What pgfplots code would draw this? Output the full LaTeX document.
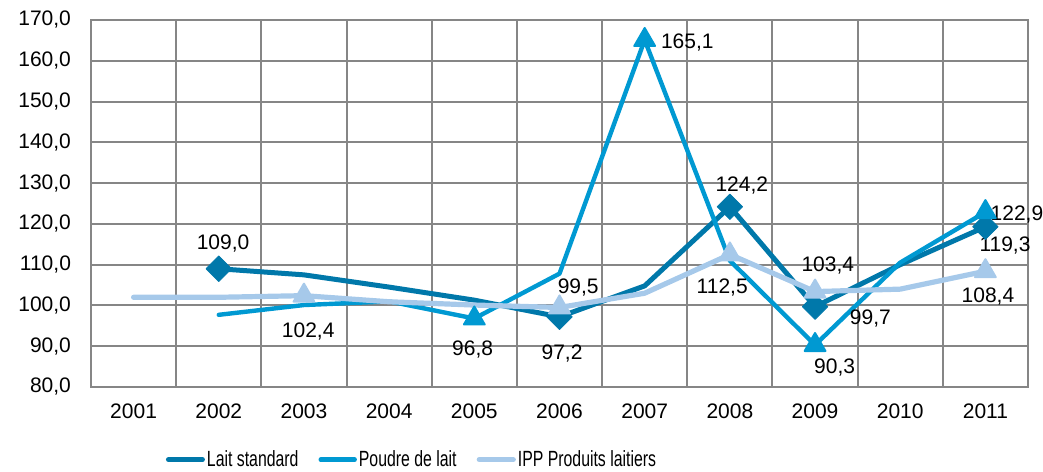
\documentclass[border=0pt]{standalone}
\usepackage{fontspec}
\setmainfont{Liberation Sans}
\newfontfamily\narrowfont[FakeStretch=0.72]{Liberation Sans}
\usepackage{pgfplots}
\pgfplotsset{compat=1.18}
\definecolor{lait}{RGB}{0,120,170}
\definecolor{poudre}{RGB}{0,153,210}
\definecolor{ipp}{RGB}{166,201,234}
\definecolor{gridgray}{RGB}{134,134,134}
\begin{document}
\begin{tikzpicture}
\path[use as bounding box] (-45.5pt,-42pt) rectangle (476pt,193.5pt);
\begin{axis}[
  scale only axis, width=468.5pt, height=183.5pt,
  xmin=0.5, xmax=11.5, ymin=80, ymax=170,
  xtick={1,...,11},
  xticklabels={2001,2002,2003,2004,2005,2006,2007,2008,2009,2010,2011},
  minor xtick={0.5,1.5,...,11.5},
  ytick={80,90,...,170},
  xminorgrids=true, ymajorgrids=true,
  major tick length=0pt, minor tick length=0pt,
  grid style={line width=1pt, gridgray},
  minor grid style={line width=1pt, gridgray},
  axis line style={line width=1pt, gridgray},
  tick label style={font=\fontsize{10.5}{12}\selectfont},
  /pgf/number format/assume math mode=true,
  yticklabel style={/pgf/number format/fixed, /pgf/number format/fixed zerofill,
    /pgf/number format/precision=1, /pgf/number format/use comma, xshift=-6.5pt},
  xticklabel style={yshift=-5pt},
  clip=false,
  legend columns=3,
  legend style={at={(0.3426,-0.198)}, anchor=center, draw=none, fill=none,
    font=\narrowfont\fontsize{11}{12}\selectfont,
    /tikz/every even column/.append style={column sep=9pt},
    nodes={inner sep=1pt}},
  legend image code/.code={\draw[#1, mark=none, line cap=round] (0pt,0pt) -- (17pt,0pt);},
  every axis plot/.append style={line join=round, line cap=round},
]
% Lait standard
\addplot[lait, line width=2.5pt] coordinates {
  (2,109.0) (3,107.5) (4,104.5) (5,101.3) (6,97.2) (7,104.8)
  (8,124.2) (9,99.7) (10,110.0) (11,119.3)
};
\addlegendentry{Lait standard}
\addplot[only marks, mark=square*, mark size=4.5pt, forget plot,
  mark options={rotate=45, fill=lait, draw=lait}] coordinates {
  (2,109.0) (6,97.2) (8,124.2) (9,99.7) (11,119.3)
};
% Poudre de lait
\addplot[poudre, line width=2.2pt] coordinates {
  (2,97.7) (3,100.1) (4,101.0) (5,96.8) (6,107.8) (7,165.1)
  (8,111.0) (9,90.3) (10,110.5) (11,122.9)
};
\addlegendentry{Poudre de lait}
\addplot[only marks, mark=triangle*, mark size=6pt, forget plot,
  mark options={fill=poudre, draw=poudre, line width=1pt}] coordinates {
  (5,96.8) (7,165.1) (9,90.3) (11,122.9)
};
% IPP Produits laitiers
\addplot[ipp, line width=2.6pt] coordinates {
  (1,102.0) (2,102.0) (3,102.4) (4,100.9) (5,100.1) (6,99.5) (7,103.0)
  (8,112.5) (9,103.4) (10,104.0) (11,108.4)
};
\addlegendentry{IPP Produits laitiers}
\addplot[only marks, mark=triangle*, mark size=6pt, forget plot,
  mark options={fill=ipp, draw=ipp, line width=1pt}] coordinates {
  (3,102.4) (6,99.5) (8,112.5) (9,103.4) (11,108.4)
};
% data labels
\begin{scope}[every node/.style={font=\fontsize{10.5}{12}\selectfont}]
\node at (axis cs:2.05,115.3) {109,0};
\node at (axis cs:3.05,93.5) {102,4};
\node at (axis cs:4.98,89.1) {96,8};
\node at (axis cs:6.03,88.3) {97,2};
\node at (axis cs:6.22,104.5) {99,5};
\node at (axis cs:7.5,164.6) {165,1};
\node at (axis cs:8.14,129.5) {124,2};
\node at (axis cs:7.91,104.3) {112,5};
\node at (axis cs:9.15,109.9) {103,4};
\node at (axis cs:9.65,96.9) {99,7};
\node at (axis cs:9.23,84.7) {90,3};
\node at (axis cs:11.37,122.2) {122,9};
\node at (axis cs:11.23,114.8) {119,3};
\node at (axis cs:11.03,102.1) {108,4};
\end{scope}
\end{axis}
\end{tikzpicture}
\end{document}
